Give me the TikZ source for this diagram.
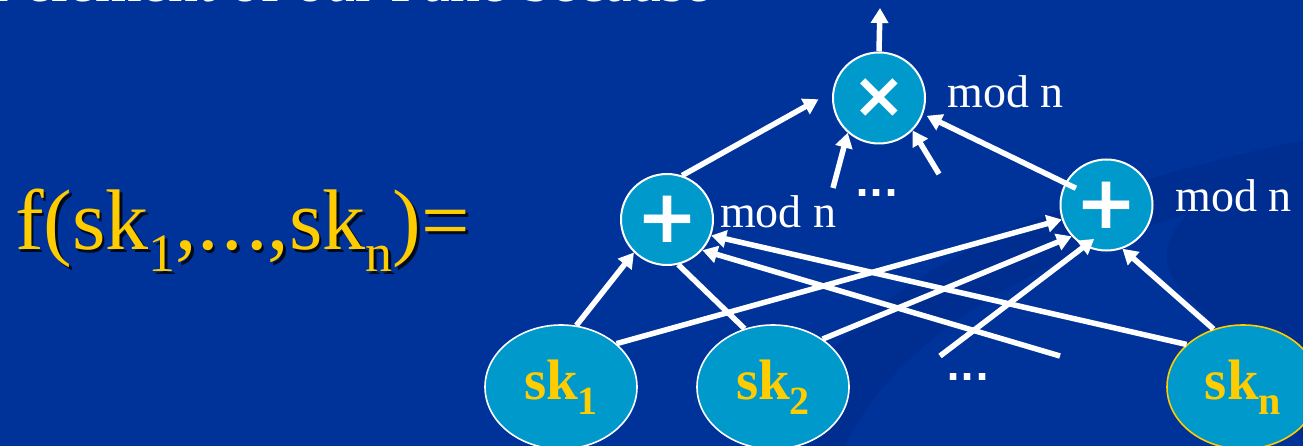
\documentclass[tikz,border=0pt]{standalone}
\usepackage{fontspec}
\setmainfont{Liberation Serif}
\newfontfamily\symfont{DejaVu Sans}
\usetikzlibrary{arrows.meta,shapes.geometric}
\definecolor{slidebg}{RGB}{0,51,153}
\definecolor{slideshade}{RGB}{0,46,144}
\definecolor{nodefill}{RGB}{0,153,204}
\definecolor{gold}{RGB}{255,204,0}
% lowered, smaller subscript: #1 text, #2 drop, #3 size
\newcommand\lowsub[3]{\raisebox{-#2}{\fontsize{#3}{#3}\selectfont #1}}
\newcommand\formulatext{f(sk\lowsub{1}{22pt}{54},.\kern3pt.\kern3pt.,sk\lowsub{n}{22pt}{54})=}
\begin{document}
\begin{tikzpicture}[x=1pt,y=-1pt,
  op/.style={ellipse, draw=white, line width=2pt, fill=nodefill,
    minimum width=92pt, minimum height=91pt, inner sep=0pt, text=white},
  key/.style={ellipse, draw=white, line width=1.6pt, fill=nodefill,
    minimum width=152pt, minimum height=124pt, inner sep=0pt, text=gold,
    font=\bfseries\fontsize{57}{57}\selectfont},
  arr/.style={draw=white, line width=5.5pt, -{Triangle[length=15pt,width=17pt]}},
  link/.style={draw=white, line width=5.5pt},
  modlabel/.style={anchor=base west, text=white, inner sep=0pt,
    font=\fontsize{46}{46}\selectfont},
  dots/.style={anchor=base, text=white, inner sep=0pt,
    font=\symfont\bfseries\fontsize{37}{37}\selectfont},
]
\useasboundingbox (0,0) rectangle (1303,446);
\clip (0,0) rectangle (1303,446);
\fill[slidebg] (0,0) rectangle (1303,446);

% faint swooshes of the slide background
\fill[slideshade] (770,446) .. controls (830,300) and (1000,205) .. (1303,140)
  -- (1303,185) .. controls (1060,235) and (900,330) .. (845,446) -- cycle;
\fill[slideshade] (1303,165) .. controls (1180,190) and (1135,250) .. (1190,300)
  .. controls (1240,350) and (1285,400) .. (1303,446) -- cycle;

% heading line running off the top edge
\node[anchor=base west, text=white, inner sep=0pt, font=\fontsize{60}{60}\selectfont]
  (heading) at (-10,1.5) {f element of our Pane because};

% the formula, with its drop shadow
\node[anchor=base west, text=black, opacity=0.8, inner sep=0pt,
  font=\fontsize{86}{86}\selectfont] (formulashadow) at (17.5,252.5) {\formulatext};
\node[anchor=base west, text=gold, inner sep=0pt,
  font=\fontsize{86}{86}\selectfont] (formula) at (15,250) {\formulatext};

% operation nodes
\node[op] (mul) at (879,98) {\symfont\bfseries\fontsize{64}{64}\selectfont ×};
\node[op] (pl) at (667,219.5) {\symfont\bfseries\fontsize{74}{74}\selectfont +};
\node[op] (pr) at (1106.5,205) {\symfont\bfseries\fontsize{74}{74}\selectfont +};

\node[modlabel] (modm) at (947,108) {mod n};
\node[modlabel] (modl) at (720,228) {mod n};
\node[modlabel] (modr) at (1175,212) {mod n};

% key share nodes
\node[key] (sk1) at (561,387) {\raisebox{-12pt}{sk\lowsub{1}{15pt}{40}}};
\node[key] (sk2) at (773,387) {\raisebox{-12pt}{sk\lowsub{2}{15pt}{40}}};
\node[key, draw=gold] (skn) at (1243,387) {\raisebox{-12pt}{sk\lowsub{n}{15pt}{40}}};

\node[dots] (dmid) at (877,197) {...};
\node[dots] (dbot) at (968,380) {...};

% free ends of the elided connectors
\coordinate (out) at (880,8);
\coordinate (m1) at (833,188);
\coordinate (m2) at (939,174);
\coordinate (h1) at (1060,356);
\coordinate (h2) at (940,356);

% connectors
\draw[arr] (mul.north) -- (out);
\draw[arr, shorten >=16pt] (pl.71) -- (mul.172);
\draw[arr] (m1) -- (mul.228);
\draw[arr] (m2) -- (mul.316);
\draw[arr, shorten <=-12pt, shorten >=4pt] (pr.152) -- (mul.340);

\draw[arr] (sk1.76) -- (pl.225);
\draw[arr] (sk1.38) -- (pr.198);
\draw[link] (sk2.116) -- (pl.284);
\draw[arr] (sk2.44) -- (pr.222);
\draw[arr] (h1) -- (pl.319);
\draw[arr, shorten >=-12pt] (h2) -- (pr.242);
\draw[arr] (skn.143) -- (pl.340);
\draw[arr] (skn.117) -- (pr.290);
\end{tikzpicture}
\end{document}
